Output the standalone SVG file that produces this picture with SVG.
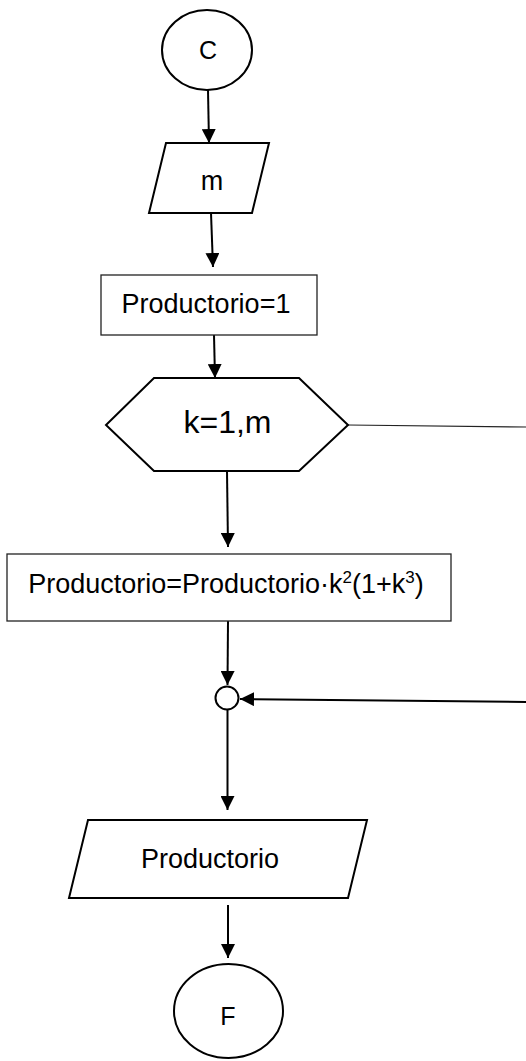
<svg xmlns="http://www.w3.org/2000/svg" width="526" height="1061" viewBox="0 0 526 1061">
<style>
.s{fill:#fff;stroke:#000;stroke-width:2}
.b{fill:#fff;stroke:#222;stroke-width:1.3}
.t{font-family:"Liberation Sans",Arial,sans-serif;font-size:27px;fill:#000;text-anchor:middle}
.c{stroke:#000;stroke-width:2;fill:none}
.thin{stroke:#222;stroke-width:1.2;fill:none}
</style>
<defs>
<marker id="ah" markerUnits="userSpaceOnUse" markerWidth="14" markerHeight="14" refX="14" refY="7" orient="auto">
<path d="M0,0 L14,7 L0,14 z" fill="#000"/>
</marker>
</defs>
<g id="connectors">
<line class="c" x1="208" y1="90" x2="209" y2="143" marker-end="url(#ah)"/>
<line class="c" x1="211" y1="213" x2="213" y2="267" marker-end="url(#ah)"/>
<line class="c" x1="214" y1="335" x2="215" y2="378" marker-end="url(#ah)"/>
<line class="c" x1="227" y1="471" x2="228" y2="547" marker-end="url(#ah)"/>
<line class="c" x1="228" y1="621" x2="227.5" y2="685" marker-end="url(#ah)"/>
<line class="c" x1="527" y1="702" x2="240" y2="699" marker-end="url(#ah)"/>
<line class="c" x1="227.5" y1="710" x2="227.5" y2="810" marker-end="url(#ah)"/>
<line class="c" x1="228" y1="905" x2="228" y2="958" marker-end="url(#ah)"/>
<line class="thin" x1="348" y1="425" x2="526" y2="427"/>
</g>
<g id="start">
<ellipse class="s" cx="207" cy="50" rx="45" ry="40"/>
<text class="t" x="208" y="59" style="font-size:25px">C</text>
</g>
<g id="input-m">
<polygon class="s" points="166,143 269,143 252,213 149,213"/>
<text class="t" x="212" y="190">m</text>
</g>
<g id="init">
<rect class="b" x="101" y="275" width="216" height="60"/>
<text class="t" x="206" y="313">Productorio=1</text>
</g>
<g id="loop">
<polygon class="s" points="154,378 299,378 348,425 299,471 154,471 106,425"/>
<text class="t" x="227.5" y="433" style="font-size:32px">k=1,m</text>
</g>
<g id="update">
<rect class="b" x="7" y="554" width="444" height="67"/>
<text class="t" x="226" y="593">Productorio=Productorio·k<tspan dy="-10" style="font-size:17px">2</tspan><tspan dy="10">(1+k</tspan><tspan dy="-10" style="font-size:17px">3</tspan><tspan dy="10">)</tspan></text>
</g>
<g id="junction">
<circle class="s" cx="227" cy="698" r="11.5"/>
</g>
<g id="output">
<polygon class="s" points="88,820 367,820 348,898 69,898"/>
<text class="t" x="210" y="868">Productorio</text>
</g>
<g id="end">
<ellipse class="s" cx="228.5" cy="1011" rx="54.5" ry="47"/>
<text class="t" x="228" y="1025" style="font-size:25px">F</text>
</g>
</svg>
